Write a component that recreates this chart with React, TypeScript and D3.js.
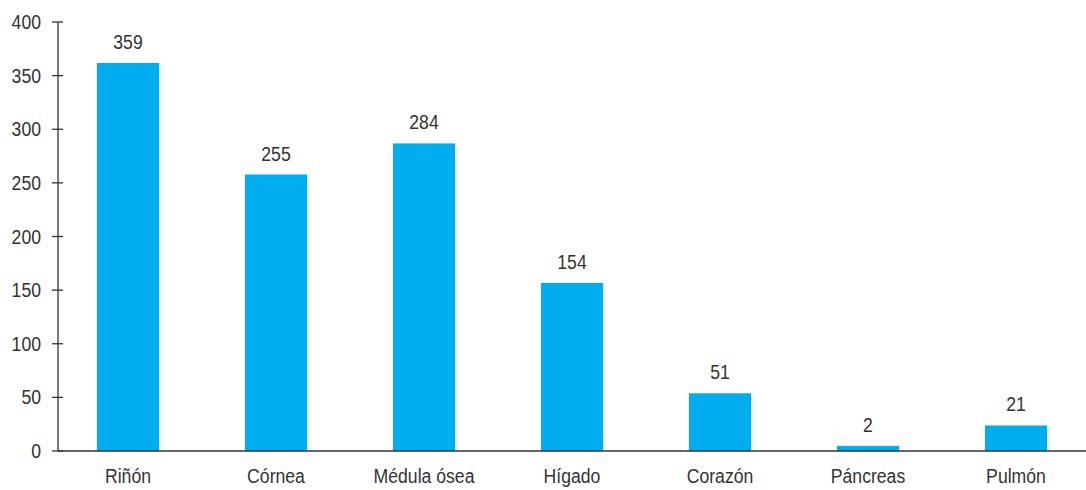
import React, { useEffect, useRef } from 'react';
import * as d3 from 'd3';

const categories = ['Riñón', 'Córnea', 'Médula ósea', 'Hígado', 'Corazón', 'Páncreas', 'Pulmón'];
const values = [359, 255, 284, 154, 51, 2, 21];
const yTicks = [0, 50, 100, 150, 200, 250, 300, 350, 400];

const App = () => {
  const svgRef = useRef<SVGSVGElement>(null);

  useEffect(() => {
    const width = 1086;
    const height = 490;
    // no narrow font available, so squeeze Liberation Sans horizontally
    const font = '"Liberation Sans", Arial, sans-serif';
    const squeeze = 0.84;
    const textColor = '#333333';

    const svg = d3.select(svgRef.current).attr('width', width).attr('height', height);
    svg.selectAll('*').remove();

    const data = categories.map((c, i) => ({ name: c, value: values[i] }));

    const x = d3
      .scaleBand()
      .domain(categories)
      .range([54, 1090])
      .paddingInner(0.58)
      .paddingOuter(0.29);

    const y = d3.scaleLinear().domain([0, 400]).range([451, 22]);

    const place = (px: number, py: number) => `translate(${px},${py}) scale(${squeeze},1)`;

    // bars
    svg
      .selectAll('rect.bar')
      .data(data)
      .enter()
      .append('rect')
      .attr('class', 'bar')
      .attr('x', (d) => x(d.name) as number)
      .attr('y', (d) => y(d.value) - 3)
      .attr('width', x.bandwidth())
      .attr('height', (d) => y(0) - y(d.value) + 3)
      .attr('fill', '#00aeef');

    // value labels
    svg
      .selectAll('text.value')
      .data(data)
      .enter()
      .append('text')
      .attr('class', 'value')
      .attr('transform', (d) => place((x(d.name) as number) + x.bandwidth() / 2, y(d.value) - 17))
      .attr('text-anchor', 'middle')
      .attr('font-family', font)
      .attr('font-size', '21px')
      .attr('fill', textColor)
      .text((d) => d.value);

    // x axis line
    svg
      .append('line')
      .attr('x1', 58)
      .attr('x2', width)
      .attr('y1', y(0))
      .attr('y2', y(0))
      .attr('stroke', textColor)
      .attr('stroke-width', 1.3);

    // category labels
    svg
      .selectAll('text.cat')
      .data(categories)
      .enter()
      .append('text')
      .attr('class', 'cat')
      .attr('transform', (d) => place((x(d) as number) + x.bandwidth() / 2, 483))
      .attr('text-anchor', 'middle')
      .attr('font-family', font)
      .attr('font-size', '21px')
      .attr('fill', textColor)
      .text((d) => d);

    // y axis
    svg
      .append('line')
      .attr('x1', 58)
      .attr('x2', 58)
      .attr('y1', y(400))
      .attr('y2', y(0))
      .attr('stroke', textColor)
      .attr('stroke-width', 1.3);

    const ticks = svg.selectAll('g.tick').data(yTicks).enter().append('g').attr('class', 'tick');
    ticks
      .append('line')
      .attr('x1', 52)
      .attr('x2', 63)
      .attr('y1', (d) => y(d))
      .attr('y2', (d) => y(d))
      .attr('stroke', textColor)
      .attr('stroke-width', 1.3);
    ticks
      .append('text')
      .attr('transform', (d) => place(41, y(d) + 7))
      .attr('text-anchor', 'end')
      .attr('font-family', font)
      .attr('font-size', '21px')
      .attr('fill', textColor)
      .text((d) => d);
  }, []);

  return (
    <div style={{ position: 'absolute', left: 0, top: 0 }}>
      <svg ref={svgRef} style={{ display: 'block' }}></svg>
    </div>
  );
};

export default App;
